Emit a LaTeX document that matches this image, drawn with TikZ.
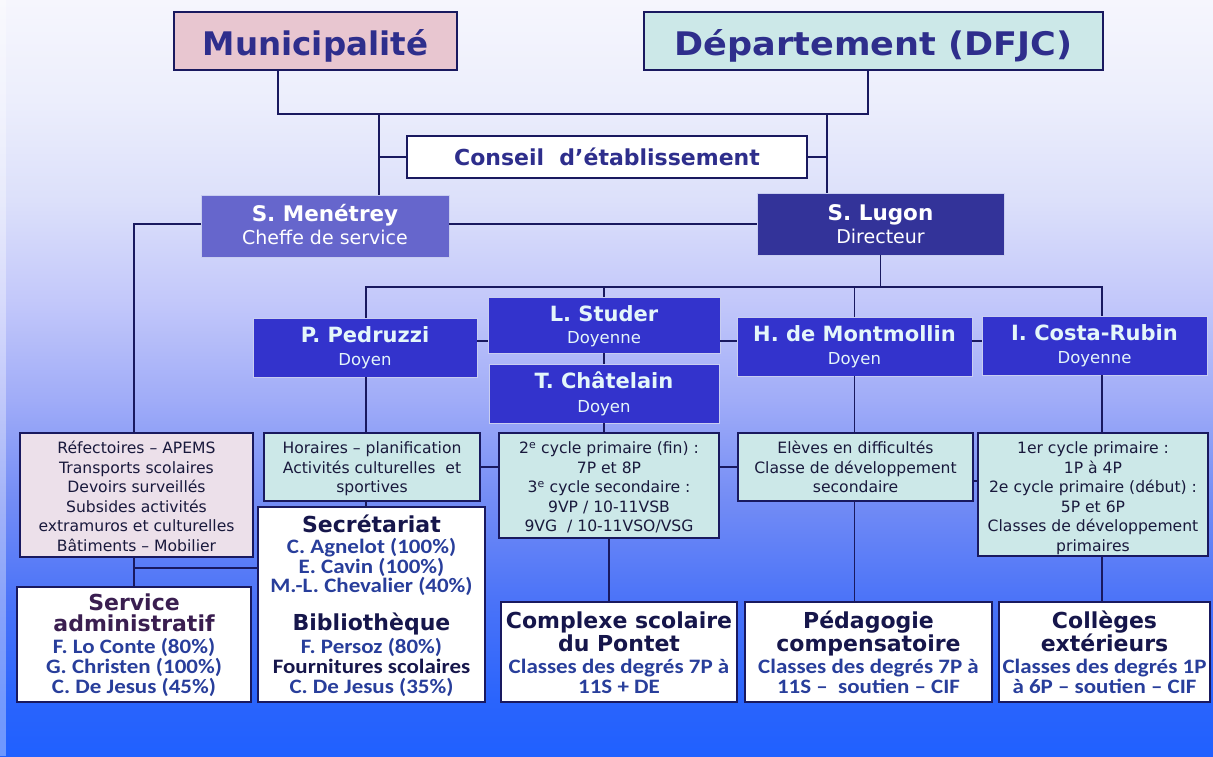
\documentclass[tikz,border=0pt]{standalone}
\usepackage{fontspec}
\usepackage{graphicx}
\setmainfont{DejaVu Sans}
\newfontfamily\calfont{Carlito}[FakeStretch=1.12]
\usetikzlibrary{calc,fit}
\definecolor{navy}{RGB}{25,25,95}
\definecolor{titleblue}{RGB}{46,46,140}
\definecolor{pinkfill}{RGB}{232,198,208}
\definecolor{tealfill}{RGB}{204,232,232}
\definecolor{lightpink}{RGB}{236,224,234}
\definecolor{menfill}{RGB}{102,102,204}
\definecolor{lugfill}{RGB}{51,51,153}
\definecolor{doyblue}{RGB}{51,51,204}
\definecolor{doyedge}{RGB}{200,205,240}
\definecolor{doytext}{RGB}{228,246,250}
\definecolor{smalltext}{RGB}{25,25,60}
\definecolor{bottitle}{RGB}{22,22,75}
\definecolor{sertitle}{RGB}{58,30,80}
\definecolor{namecol}{RGB}{40,62,155}
\definecolor{bg0}{RGB}{32,96,255}
\definecolor{bg1}{RGB}{42,100,252}
\definecolor{bg2}{RGB}{75,115,248}
\definecolor{bg3}{RGB}{115,140,245}
\definecolor{bg4}{RGB}{160,172,248}
\definecolor{bg5}{RGB}{195,200,250}
\definecolor{bg6}{RGB}{220,224,250}
\definecolor{bg7}{RGB}{236,238,252}
\definecolor{bg8}{RGB}{246,246,253}
\pgfdeclareverticalshading{bgshade}{100bp}{color(0bp)=(bg0); color(25bp)=(bg0); color(28.7bp)=(bg1); color(35.3bp)=(bg2); color(41.95bp)=(bg3); color(48.55bp)=(bg4); color(55.15bp)=(bg5); color(61.75bp)=(bg6); color(68.4bp)=(bg7); color(75bp)=(bg8); color(100bp)=(bg8)}
\newcounter{tn}
\newcommand\tl[3]{\stepcounter{tn}\node[t,#1] (t\arabic{tn}) at (#2) {#3};}
\tikzset{
 conn/.style={draw=navy, line width=1.8pt},
 bx/.style={draw=navy, line width=1.2pt, inner sep=0pt, outer sep=0pt},
 dbox/.style={draw=doyedge, line width=1pt, inner sep=0pt, outer sep=0pt},
 t/.style={anchor=base, inner sep=0pt, outer sep=0pt},
 big/.style={font=\fontsize{32.5}{36}\selectfont\bfseries, text=titleblue},
 cons/.style={font=\fontsize{22}{26}\selectfont\bfseries, text=titleblue},
 nm/.style={font=\fontsize{21}{25}\selectfont\bfseries, text=doytext},
 sub/.style={font=\fontsize{16.5}{20}\selectfont, text=doytext},
 nmw/.style={font=\fontsize{21.5}{25}\selectfont\bfseries, text=white},
 subw/.style={font=\fontsize{19}{22}\selectfont, text=white},
 sm/.style={font=\fontsize{15.6}{19}\selectfont, text=smalltext},
 bt/.style={font=\fontsize{22}{26}\selectfont\bfseries, text=bottitle},
 cn/.style={font=\calfont\fontsize{20.5}{24}\selectfont\bfseries, text=namecol},
}
\begin{document}
\begin{tikzpicture}[x=1pt,y=-1pt]
\useasboundingbox (0,0) rectangle (1213,756);
\shade[shading=bgshade] (0,0) rectangle (1213,756);
\fill[white, opacity=0.35] (0,0) rectangle (6,756);

% boxes
\node[bx, fill=pinkfill, fit={(174,12) (457,70)}] (mun) {};
\node[bx, fill=tealfill, fit={(644,12) (1103,70)}] (dep) {};
\node[bx, fill=white, fit={(407,136) (807,178)}] (con) {};
\node[dbox, fill=menfill, fit={(201,195) (449,257)}] (men) {};
\node[dbox, fill=lugfill, fit={(757,193) (1004,255)}] (lug) {};
\node[dbox, fill=doyblue, fit={(253,318) (477,377)}] (ped) {};
\node[dbox, fill=doyblue, fit={(488,297) (720,353)}] (stu) {};
\node[dbox, fill=doyblue, fit={(489,364) (719,423)}] (cha) {};
\node[dbox, fill=doyblue, fit={(737,317) (972,376)}] (mon) {};
\node[dbox, fill=doyblue, fit={(982,316) (1207,375)}] (cos) {};
\node[bx, fill=lightpink, fit={(20,433) (253,557)}] (ref) {};
\node[bx, fill=tealfill, fit={(264,433) (480,501)}] (hor) {};
\node[bx, fill=tealfill, fit={(499,433) (719,538)}] (cyc) {};
\node[bx, fill=tealfill, fit={(738,433) (973,501)}] (ele) {};
\node[bx, fill=tealfill, fit={(978,433) (1208,556)}] (col) {};
\node[bx, fill=white, fit={(17,587) (251,702)}] (ser) {};
\node[bx, fill=white, fit={(258,507) (485,702)}] (sec) {};
\node[bx, fill=white, fit={(501,602) (737,702)}] (cpx) {};
\node[bx, fill=white, fit={(745,602) (992,702)}] (pco) {};
\node[bx, fill=white, fit={(999,602) (1210,702)}] (cle) {};

% connector coordinates
\coordinate (bM) at (278,114);
\coordinate (bD) at (868,114);
\coordinate (vL) at (379,114);
\coordinate (vR) at (827,114);
\coordinate (bl) at (366,287);
\coordinate (br) at (1102,287);
\coordinate (hy) at (0,341);
\coordinate (ly) at (0,467);
\coordinate (ly2) at (0,481);
\coordinate (sy) at (0,568);
\coordinate (mL) at (134,224);

% connectors
\draw[conn] (mun.south -| bM) -- (bM) -- (bD) -- (dep.south -| bD);
\draw[conn] (vL) -- (men.north -| vL);
\draw[conn] (vR) -- (lug.north -| vR);
\draw[conn] (con.west) -- (con.west -| vL);
\draw[conn] (con.east) -- (con.east -| vR);
\draw[conn] (men.east |- mL) -- (lug.west |- mL);
\draw[conn] (men.west |- mL) -- (mL) -- (ref.north -| mL);
\draw[conn] (lug.south) -- (lug.south |- bl);
\draw[conn] (ped.north -| bl) -- (bl) -- (br) -- (cos.north -| br);
\draw[conn] (stu.north) -- (stu.north |- bl);
\draw[conn] (mon.north) -- (mon.north |- bl);
\draw[conn] (ped.east |- hy) -- (stu.west |- hy);
\draw[conn] (stu.east |- hy) -- (mon.west |- hy);
\draw[conn] (mon.east |- hy) -- (cos.west |- hy);
\draw[conn] (stu.south) -- (cha.north);
\draw[conn] (cha.south) -- (cha.south |- cyc.north);
\draw[conn] (ped.south -| bl) -- (hor.north -| bl);
\draw[conn] (mon.south) -- (mon.south |- ele.north);
\draw[conn] (cos.south -| br) -- (col.north -| br);
\draw[conn] (ref.south -| mL) -- (ser.north -| mL);
\draw[conn] (mL |- sy) -- (sec.west |- sy);
\draw[conn] (hor.south -| bl) -- (sec.north -| bl);
\draw[conn] (cyc.south) -- (cyc.south |- cpx.north);
\draw[conn] (ele.south -| mon.south) -- (pco.north -| mon.south);
\draw[conn] (col.south -| br) -- (cle.north -| br);
\draw[conn] (hor.east |- ly) -- (cyc.west |- ly);
\draw[conn] (cyc.east |- ly) -- (ele.west |- ly);
\draw[conn] (ele.east |- ly2) -- (col.west |- ly2);

% texts: top
\tl{big}{315.5,55}{Municipalité}
\tl{big}{873.5,55}{\scalebox{1.08}[1]{Département (DFJC)}}
\tl{cons}{607,165}{Conseil\ \ d’établissement}
\tl{nmw}{325,221}{S. Menétrey}
\tl{subw}{325,244}{Cheffe de service}
\tl{nmw}{880.5,220}{S. Lugon}
\tl{subw}{880.5,243}{Directeur}
\tl{nm}{365,342}{P. Pedruzzi}
\tl{sub}{365,365}{Doyen}
\tl{nm}{604,321}{L. Studer}
\tl{sub}{604,343}{Doyenne}
\tl{nm}{604,388}{T. Châtelain}
\tl{sub}{604,412}{Doyen}
\tl{nm}{854.5,341}{H. de Montmollin}
\tl{sub}{854.5,364}{Doyen}
\tl{nm}{1094.5,340}{I. Costa-Rubin}
\tl{sub}{1094.5,363}{Doyenne}

% small texts
\tl{sm}{136.5,453.5}{Réfectoires – APEMS}
\tl{sm}{136.5,473}{Transports scolaires}
\tl{sm}{136.5,492.5}{Devoirs surveillés}
\tl{sm}{136.5,512}{Subsides activités}
\tl{sm}{136.5,531.5}{extramuros et culturelles}
\tl{sm}{136.5,551}{Bâtiments – Mobilier}

\tl{sm}{372,453.5}{Horaires – planification}
\tl{sm}{372,473}{Activités culturelles\ \ et}
\tl{sm}{372,492.5}{sportives}

\tl{sm}{609,453.5}{2\textsuperscript{e} cycle primaire (fin) :}
\tl{sm}{609,473}{7P et 8P}
\tl{sm}{609,492.5}{3\textsuperscript{e} cycle secondaire :}
\tl{sm}{609,512}{9VP / 10-11VSB}
\tl{sm}{609,531.5}{9VG\ \ / 10-11VSO/VSG}

\tl{sm}{855.5,453.5}{Elèves en difficultés}
\tl{sm}{855.5,473}{Classe de développement}
\tl{sm}{855.5,492.5}{secondaire}

\tl{sm}{1093,453.5}{1er cycle primaire :}
\tl{sm}{1093,473}{1P à 4P}
\tl{sm}{1093,492.5}{2e cycle primaire (début) :}
\tl{sm}{1093,512}{5P et 6P}
\tl{sm}{1093,531.5}{Classes de développement}
\tl{sm}{1093,551}{primaires}

% bottom boxes
\tl{bt,text=sertitle}{134,610}{Service}
\tl{bt,text=sertitle}{134,631}{administratif}
\tl{cn}{134,653}{F. Lo Conte (80\%)}
\tl{cn}{134,673}{G. Christen (100\%)}
\tl{cn}{134,693}{C. De Jesus (45\%)}

\tl{bt}{371.5,532}{Secrétariat}
\tl{cn}{371.5,553}{C. Agnelot (100\%)}
\tl{cn}{371.5,573}{E. Cavin (100\%)}
\tl{cn}{371.5,592}{M.-L. Chevalier (40\%)}
\tl{bt}{371.5,630}{Bibliothèque}
\tl{cn}{371.5,653}{F. Persoz (80\%)}
\tl{cn,text=bottitle}{371.5,673}{Fournitures scolaires}
\tl{cn}{371.5,693}{C. De Jesus (35\%)}

\tl{bt}{619,628}{Complexe scolaire}
\tl{bt}{619,651}{du Pontet}
\tl{cn}{619,673}{Classes des degrés 7P à}
\tl{cn}{619,693}{11S + DE}

\tl{bt}{868.5,628}{Pédagogie}
\tl{bt}{868.5,651}{compensatoire}
\tl{cn}{868.5,673}{Classes des degrés 7P à}
\tl{cn}{868.5,693}{11S –\ \ soutien – CIF}

\tl{bt}{1104.5,628}{Collèges}
\tl{bt}{1104.5,651}{extérieurs}
\tl{cn}{1104.5,673}{Classes des degrés 1P}
\tl{cn}{1104.5,693}{à 6P – soutien – CIF}
\end{tikzpicture}
\end{document}
